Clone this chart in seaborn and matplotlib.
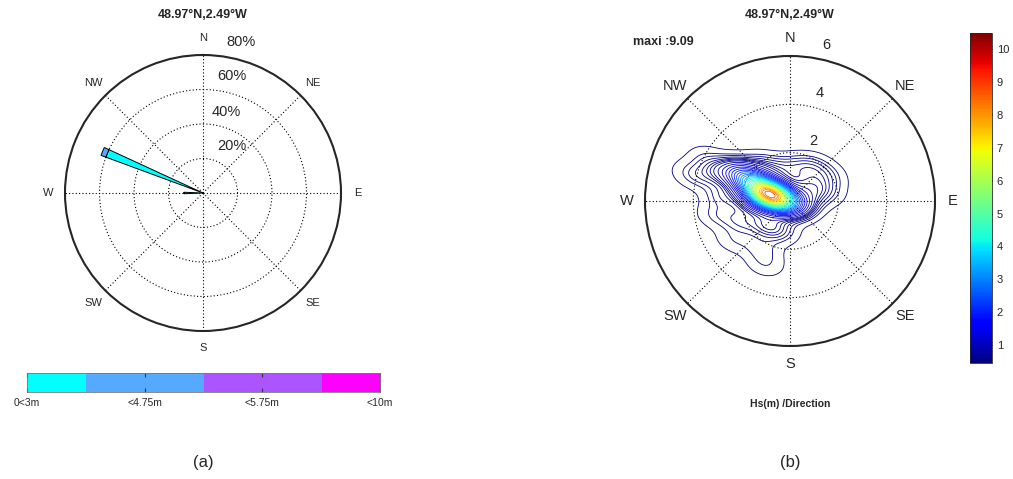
import numpy as np
import matplotlib
matplotlib.use("Agg")
import matplotlib.pyplot as plt
import seaborn as sns
from matplotlib.colors import ListedColormap, Normalize
from matplotlib.cm import ScalarMappable

sns.set_style("white")
plt.rcParams["font.family"] = ["Liberation Sans", "DejaVu Sans"]

title = "48.97°N,2.49°W"
compass = ["N", "NE", "E", "SE", "S", "SW", "W", "NW"]
compass_deg = [0, 45, 90, 135, 180, 225, 270, 315]

# (a) wave rose: frequency (%) per direction, stacked by Hs class
rose_dirs = [270, 292.5]
rose_lt3 = [11, 60]
rose_lt475 = [0, 3]
class_labels = ["0<3m", "<4.75m", "<5.75m", "<10m"]
class_colors = ["#00FFFF", "#55AAFF", "#AA55FF", "#FF00FF"]
pct_rings = [20, 40, 60, 80]

# (b) Hs / direction sea states: direction (deg), Hs (m), weight
obs_dir = [286, 293, 297, 299, 270, 146,
           292, 285, 297, 274, 259, 248, 270, 235, 286,
           225, 211, 203, 201,
           343, 321, 16,
           35, 56, 74, 53, 80]
obs_hs = [0.77, 1.3, 1.9, 2.5, 0.3, 0.2,
          3.2, 3.9, 3.9, 2.8, 3.1, 2.2, 1.5, 2.8, 4.4,
          1.4, 2.3, 1.3, 2.8,
          1.36, 1.9, 1.46,
          1.72, 1.8, 1.46, 1.0, 0.6]
obs_w = [30, 18, 10, 5, 10, 5,
         2, 1, 0.8, 1.5, 1, 1.5, 3, 0.8, 0.5,
         2, 1, 1.5, 0.8,
         1.5, 1.5, 1.2,
         1.2, 1.2, 1.2, 2, 2]
maxi = 9.09
hs_rings = [2, 4, 6]
cbar_ticks = list(range(1, 11))

jet = matplotlib.colormaps["jet"]
W, H = 1013, 479
fig = plt.figure(figsize=(W / 100, H / 100), dpi=100)


def rect(x0, y0, x1, y1):
    return [x0 / W, 1 - y1 / H, (x1 - x0) / W, (y1 - y0) / H]


def polar_frame(ax, rmax, rings):
    ax.set_theta_zero_location("N")
    ax.set_theta_direction(-1)
    ax.set_ylim(0, rmax)
    ax.set_thetagrids(compass_deg, [""] * len(compass_deg))
    ax.set_rgrids(rings[:-1], [""] * (len(rings) - 1))
    ax.grid(True, color="black", linestyle=(0, (1, 2)), linewidth=0.8)
    ax.spines["polar"].set_linewidth(1.5)
    ax.tick_params(length=0)


# ---------------- (a) ----------------
ax1 = fig.add_axes(rect(65, 55, 341, 331), projection="polar")
polar_frame(ax1, 80, pct_rings)
theta = np.deg2rad(rose_dirs)
ax1.bar(theta, rose_lt3, width=np.deg2rad(4.5), color=class_colors[0],
        edgecolor="black", linewidth=0.7)
ax1.bar(theta, rose_lt475, width=np.deg2rad(4.5), bottom=rose_lt3,
        color=class_colors[1], edgecolor="black", linewidth=0.7)
for lab, d in zip(compass, compass_deg):
    ax1.text(np.deg2rad(d), 90, lab, ha="center", va="center", fontsize=8)
for v, r, a in zip(pct_rings, [32, 49, 70, 90], [32, 16, 14, 14]):
    ax1.text(np.deg2rad(a), r, f"{v}%", ha="center", va="center", fontsize=10.5)
fig.text(203 / W, 1 - 15 / H, title, ha="center", va="center",
         fontsize=9, fontweight="bold")

cax1 = fig.add_axes(rect(27, 373, 380, 392))
cax1.imshow([[0, 1, 2, 3]], cmap=ListedColormap(class_colors),
            extent=(-0.5, 3.5, 0, 1), aspect="auto")
cax1.set_xlim(0, 3)
cax1.set_ylim(0, 1)
cax1.set_yticks([])
cax1.set_xticks(range(4))
cax1.set_xticklabels(class_labels, fontsize=7.5)
cax1.tick_params(axis="x", direction="in", length=3, top=True, bottom=True,
                 pad=4, color="#333333")
for s in cax1.spines.values():
    s.set_linewidth(0.6)
    s.set_color("#777777")
fig.text(203 / W, 1 - 462 / H, "(a)", ha="center", va="center", fontsize=12)

# ---------------- (b) ----------------
rb = rect(645, 56, 935, 346)
ax2 = fig.add_axes(rb, projection="polar")
polar_frame(ax2, 6, hs_rings)
for lab, d in zip(compass, compass_deg):
    ax2.text(np.deg2rad(d), 6.74, lab, ha="center", va="center", fontsize=10.5)
for v, r, a in zip(hs_rings, [2.65, 4.64, 6.62], [21, 15.5, 13]):
    ax2.text(np.deg2rad(a), r, str(v), ha="center", va="center", fontsize=10.5)

axc = fig.add_axes(rb)
axc.set_xlim(-6, 6)
axc.set_ylim(-6, 6)
axc.set_aspect("equal")
axc.axis("off")
axc.patch.set_alpha(0)
rad = np.deg2rad(obs_dir)
ex = np.array(obs_hs) * np.sin(rad)
ny = np.array(obs_hs) * np.cos(rad)
sns.kdeplot(x=ex, y=ny, weights=obs_w, ax=axc, levels=34, thresh=0.012,
            bw_adjust=0.72, cmap=jet, linewidths=0.6, gridsize=200)
axc.set_xlim(-6, 6)
axc.set_ylim(-6, 6)
cs = axc.collections[-1]
top = max(cs.levels)
cs.set_clim(top * 0.45 / maxi, top * 10.5 / maxi)

fig.text(663 / W, 1 - 42 / H, f"maxi :{maxi}", ha="center", va="center",
         fontsize=9, fontweight="bold")
fig.text(790 / W, 1 - 15 / H, title, ha="center", va="center",
         fontsize=9, fontweight="bold")
fig.text(790 / W, 1 - 404 / H, "Hs(m) /Direction", ha="center", va="center",
         fontsize=7.5, fontweight="bold")

cax2 = fig.add_axes(rect(970, 33, 992, 363))
cb = fig.colorbar(ScalarMappable(norm=Normalize(0.45, 10.5), cmap=jet),
                  cax=cax2, ticks=cbar_ticks)
cb.ax.tick_params(labelsize=8, direction="in", length=3, left=True, right=True)
cb.outline.set_linewidth(0.6)
fig.text(790 / W, 1 - 462 / H, "(b)", ha="center", va="center", fontsize=12)

fig.savefig("out.png", dpi=100)
